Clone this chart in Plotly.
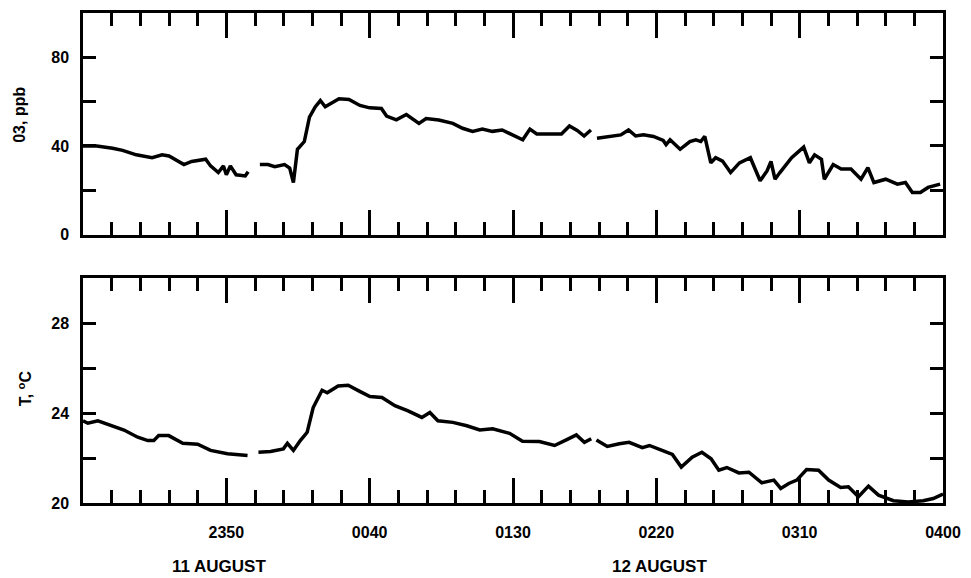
import plotly.graph_objects as go

# minutes after 23:00 on 11 August; None marks a gap in the record
o3_time = [0, 4.8, 10.3, 13.8, 18.6, 24.1, 27.6, 30, 35.2, 37.9, 42.8, 44.5, 47.2, 49, 50, 51.4, 53.4, 56.6, 57.6,
           None,
           61.7, 64.5, 66.9, 70.3, 72.1, 73.4, 74.8, 77.2, 79, 81, 82.8, 84.5, 89.3, 92.8, 96.6, 100, 104.1, 105.9,
           109.3, 112.8, 117.2, 119.7, 124.1, 129, 132.4, 135.9, 139.3, 142.8, 146.2, 150.7, 153.4, 155.9, 158.3,
           162.1, 166.9, 169.7, 172.4, 174.8, 177.2,
           None,
           179.3, 182.8, 187.6, 190.3, 192.8, 195.5, 199, 202.4, 203.4, 204.8, 208.3, 211.7, 213.8, 215.5, 216.9,
           219, 220.7, 223.1, 225.9, 229, 232.8, 236.2, 238.6, 240, 241.4, 243.1, 247.2, 251.4, 253.4, 255.2, 257.6,
           258.6, 261.7, 264.5, 267.9, 271.4, 273.8, 275.9, 280, 284.1, 286.9, 289.3, 292.1, 294.8, 299]
o3_ppb = [40, 40, 39, 38, 36, 34.7, 36, 35.5, 31.6, 33, 34, 31, 28, 31, 27, 31, 27, 26.5, 28.4,
          None,
          31.6, 31.6, 30.7, 31.6, 30, 23.5, 38.5, 42, 53, 57.6, 60.5, 57.7, 61.3, 61, 58.3, 57.2, 56.9, 53.5,
          51.8, 54.2, 50.2, 52.4, 51.7, 50.2, 48, 46.6, 47.6, 46.6, 47.2, 44.5, 42.8, 47.6, 45.4,
          45.4, 45.4, 49, 47, 44.5, 47.2,
          None,
          43.5, 44.3, 45, 47.2, 44.5, 45, 44.3, 42.5, 40.6, 42.8, 38.5, 42, 42.8, 42, 44.3,
          32.4, 34.7, 33.2, 28, 32.4, 34.7, 24.3, 28.7, 33, 25, 28, 34.7, 39.5, 32.4, 36, 34,
          25, 31.6, 29.6, 29.6, 25, 30.2, 23.5, 25, 22.8, 23.5, 19, 19, 21.3, 22.8]

temp_time = [0, 1.7, 5.2, 9.7, 14.3, 19.1, 22.6, 24.7, 26.4, 29.9, 34.8, 40, 44.5, 50.4, 57.4,
             None,
             61.2, 65.4, 69.9, 71.3, 73.4, 75.8, 78.2, 80.3, 83.4, 85.2, 89, 92.5, 96.7, 100.1, 104.3, 108.8,
             113.4, 118.2, 121, 123.8, 129, 133.9, 138.4, 142.9, 148.8, 153.3, 159.2, 164.5, 168.6, 172.1,
             174.9, 177.3,
             None,
             179.1, 182.9, 187.1, 190.5, 195.1, 197.6, 202, 205.6, 208.7, 212.5, 215.9, 219.1, 221.8, 224.6,
             228.8, 232.3, 236.8, 241, 243.4, 246.2, 249, 252.4, 256.6, 260.1, 264.3, 267, 270.5, 274, 277.5,
             282.7, 287.9, 293.1, 296.6, 300]
temp_c = [23.66, 23.55, 23.66, 23.44, 23.25, 22.93, 22.78, 22.78, 23.0, 23.0, 22.66, 22.62, 22.34, 22.19, 22.12,
          None,
          22.26, 22.29, 22.41, 22.66, 22.34, 22.78, 23.15, 24.25, 25.02, 24.91, 25.21, 25.24, 24.96, 24.74, 24.7,
          24.33, 24.1, 23.81, 24.03, 23.66, 23.59, 23.44, 23.25, 23.3, 23.1, 22.75, 22.74, 22.56, 22.81, 23.03,
          22.7, 22.86,
          None,
          22.81, 22.52, 22.64, 22.7, 22.46, 22.56, 22.34, 22.16, 21.6, 22.04, 22.26, 21.97, 21.46, 21.58,
          21.34, 21.37, 20.9, 21.02, 20.65, 20.87, 21.02, 21.49, 21.46, 21.02, 20.69, 20.72, 20.28, 20.75, 20.35,
          20.1, 20.05, 20.1, 20.2, 20.4]

major_ticks = [50, 100, 150, 200, 250, 300]
major_labels = ["2350", "0040", "0130", "0220", "0310", "0400"]
o3_ticks = [0, 40, 80]
o3_labels = ["0", "40", "80"]
t_ticks = [20, 24, 28]
t_labels = ["20", "24", "28"]
date_labels = ["11 AUGUST", "12 AUGUST"]
date_pos = [47.5, 201]

FONT = "Liberation Sans, Arial, sans-serif"
tickfont = dict(family=FONT, size=16, color="black", weight="bold")

fig = go.Figure()
fig.add_trace(go.Scatter(x=o3_time, y=o3_ppb, mode="lines", xaxis="x2", yaxis="y2",
                         line=dict(color="black", width=3.5), connectgaps=False, showlegend=False))
fig.add_trace(go.Scatter(x=temp_time, y=temp_c, mode="lines", xaxis="x", yaxis="y",
                         line=dict(color="black", width=3.5), connectgaps=False, showlegend=False))

xcommon = dict(range=[0, 300], tickmode="array", tickvals=major_ticks, ticks="inside", ticklen=25,
               tickwidth=2.5, tickcolor="black", showline=True, linewidth=2.5, linecolor="black",
               mirror="ticks", showgrid=False, zeroline=False,
               minor=dict(tick0=0, dtick=10, ticks="inside", ticklen=13, tickwidth=2.5, tickcolor="black",
                          showgrid=False))
ycommon = dict(tickmode="array", ticks="inside", ticklen=13, tickwidth=2.5, tickcolor="black",
               showline=True, linewidth=2.5, linecolor="black", mirror="ticks", showgrid=False,
               zeroline=False, tickfont=tickfont, ticklabelstandoff=8)

fig.update_layout(
    width=971, height=578,
    margin=dict(l=83, r=21, t=10, b=75),
    paper_bgcolor="white", plot_bgcolor="white",
    xaxis=dict(**xcommon, anchor="y", domain=[0, 1], ticktext=major_labels, tickfont=tickfont,
               ticklabelstandoff=13),
    xaxis2=dict(**xcommon, anchor="y2", domain=[0, 1], showticklabels=False, matches="x"),
    yaxis=dict(**ycommon, domain=[0, 0.4584], range=[20, 30], tickvals=t_ticks, ticktext=t_labels,
               minor=dict(tick0=20, dtick=2, ticks="inside", ticklen=13, tickwidth=2.5, tickcolor="black",
                          showgrid=False)),
    yaxis2=dict(**ycommon, domain=[0.5477, 1], range=[0, 100], tickvals=o3_ticks, ticktext=o3_labels,
                minor=dict(tick0=0, dtick=20, ticks="inside", ticklen=13, tickwidth=2.5, tickcolor="black",
                           showgrid=False)),
)

for lab, pos in zip(date_labels, date_pos):
    fig.add_annotation(text=lab, x=pos, xref="x", y=-0.13, yref="paper", showarrow=False,
                       xanchor="center", yanchor="middle",
                       font=dict(family=FONT, size=17, color="black", weight="bold"))

fig.add_annotation(text="03, ppb", x=-0.074, xref="paper", y=0.793, yref="paper", showarrow=False,
                   textangle=-90, xanchor="center", yanchor="middle",
                   font=dict(family=FONT, size=16, color="black", weight="bold"))
fig.add_annotation(text="T, <sup>o</sup>C", x=-0.068, xref="paper", y=0.233, yref="paper", showarrow=False,
                   textangle=-90, xanchor="center", yanchor="middle",
                   font=dict(family=FONT, size=16, color="black", weight="bold"))

fig.write_html("out.html")
